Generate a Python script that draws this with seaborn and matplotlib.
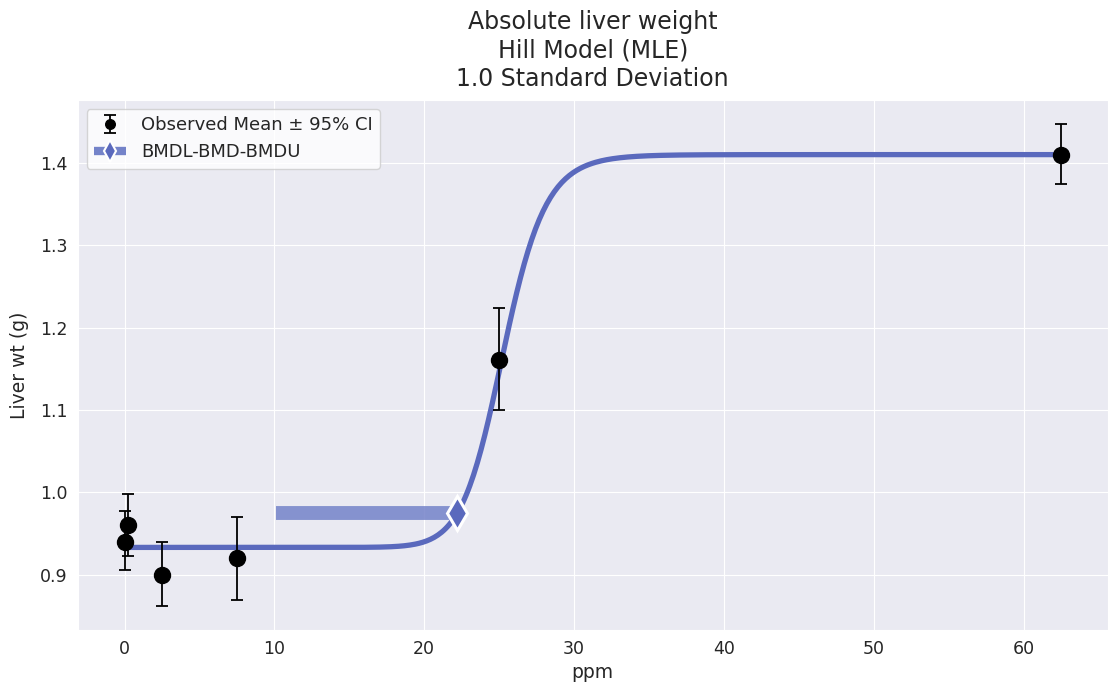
import matplotlib
matplotlib.use('Agg')
import matplotlib.pyplot as plt
from matplotlib.lines import Line2D
import numpy as np
import seaborn as sns

# observed data
dose = [0, 0.25, 2.5, 7.5, 25, 62.5]
mean = [0.94, 0.96, 0.90, 0.92, 1.16, 1.41]
ci_low = [0.905, 0.922, 0.862, 0.869, 1.100, 1.374]
ci_high = [0.977, 0.998, 0.939, 0.970, 1.224, 1.447]

# Hill model fit (g + v * x^n / (k^n + x^n))
hill_g = 0.933
hill_v = 0.477
hill_k = 25.3
hill_n = 18

# benchmark dose results
bmdl = 10.1
bmd = 22.2
bmdu = 22.3

line_color = '#5a69bd'
bar_color = '#7483c9'

sns.set_style('darkgrid')
plt.rcParams['font.family'] = ['DejaVu Sans']

fig, ax = plt.subplots(figsize=(11.1, 6.9), dpi=100)

yerr = [np.array(mean) - np.array(ci_low), np.array(ci_high) - np.array(mean)]
obs = ax.errorbar(dose, mean, yerr=yerr, fmt='o', color='black', markersize=11.5,
                  capsize=4.5, elinewidth=1.3, capthick=1.3, zorder=3)

xs = np.linspace(0, max(dose), 500)
ys = hill_g + hill_v * xs**hill_n / (hill_k**hill_n + xs**hill_n)
ax.plot(xs, ys, color=line_color, linewidth=3.8, zorder=2)

bmd_y = hill_g + hill_v * bmd**hill_n / (hill_k**hill_n + bmd**hill_n)
ax.plot([bmdl, bmdu], [bmd_y, bmd_y], color=bar_color, alpha=0.85,
        linewidth=10, solid_capstyle='butt', zorder=4)
ax.plot([bmd], [bmd_y], marker='d', markersize=17, color=line_color,
        markeredgecolor='white', markeredgewidth=2.2, linestyle='none', zorder=5)

bmd_handle = Line2D([], [], color=bar_color, linewidth=6, solid_capstyle='butt',
                    marker='d', markersize=18, markerfacecolor=line_color,
                    markeredgecolor='white', markeredgewidth=1.5)

ax.set_xlabel('ppm', fontsize=13.5)
ax.set_ylabel('Liver wt (g)', fontsize=13.5, labelpad=8)
ax.set_title('Absolute liver weight\nHill Model (MLE)\n1.0 Standard Deviation',
             fontsize=17, linespacing=1.25, pad=10)
ax.tick_params(labelsize=12.5)
ax.set_yticks([0.9, 1.0, 1.1, 1.2, 1.3, 1.4])
ax.legend([obs, bmd_handle], ['Observed Mean \u00b1 95% CI', 'BMDL-BMD-BMDU'],
          loc='upper left', fontsize=13, facecolor='white', framealpha=0.8,
          markerscale=0.6, handlelength=1.8)

plt.subplots_adjust(left=0.07, right=0.998, top=0.855, bottom=0.087)
plt.savefig('out.png')
